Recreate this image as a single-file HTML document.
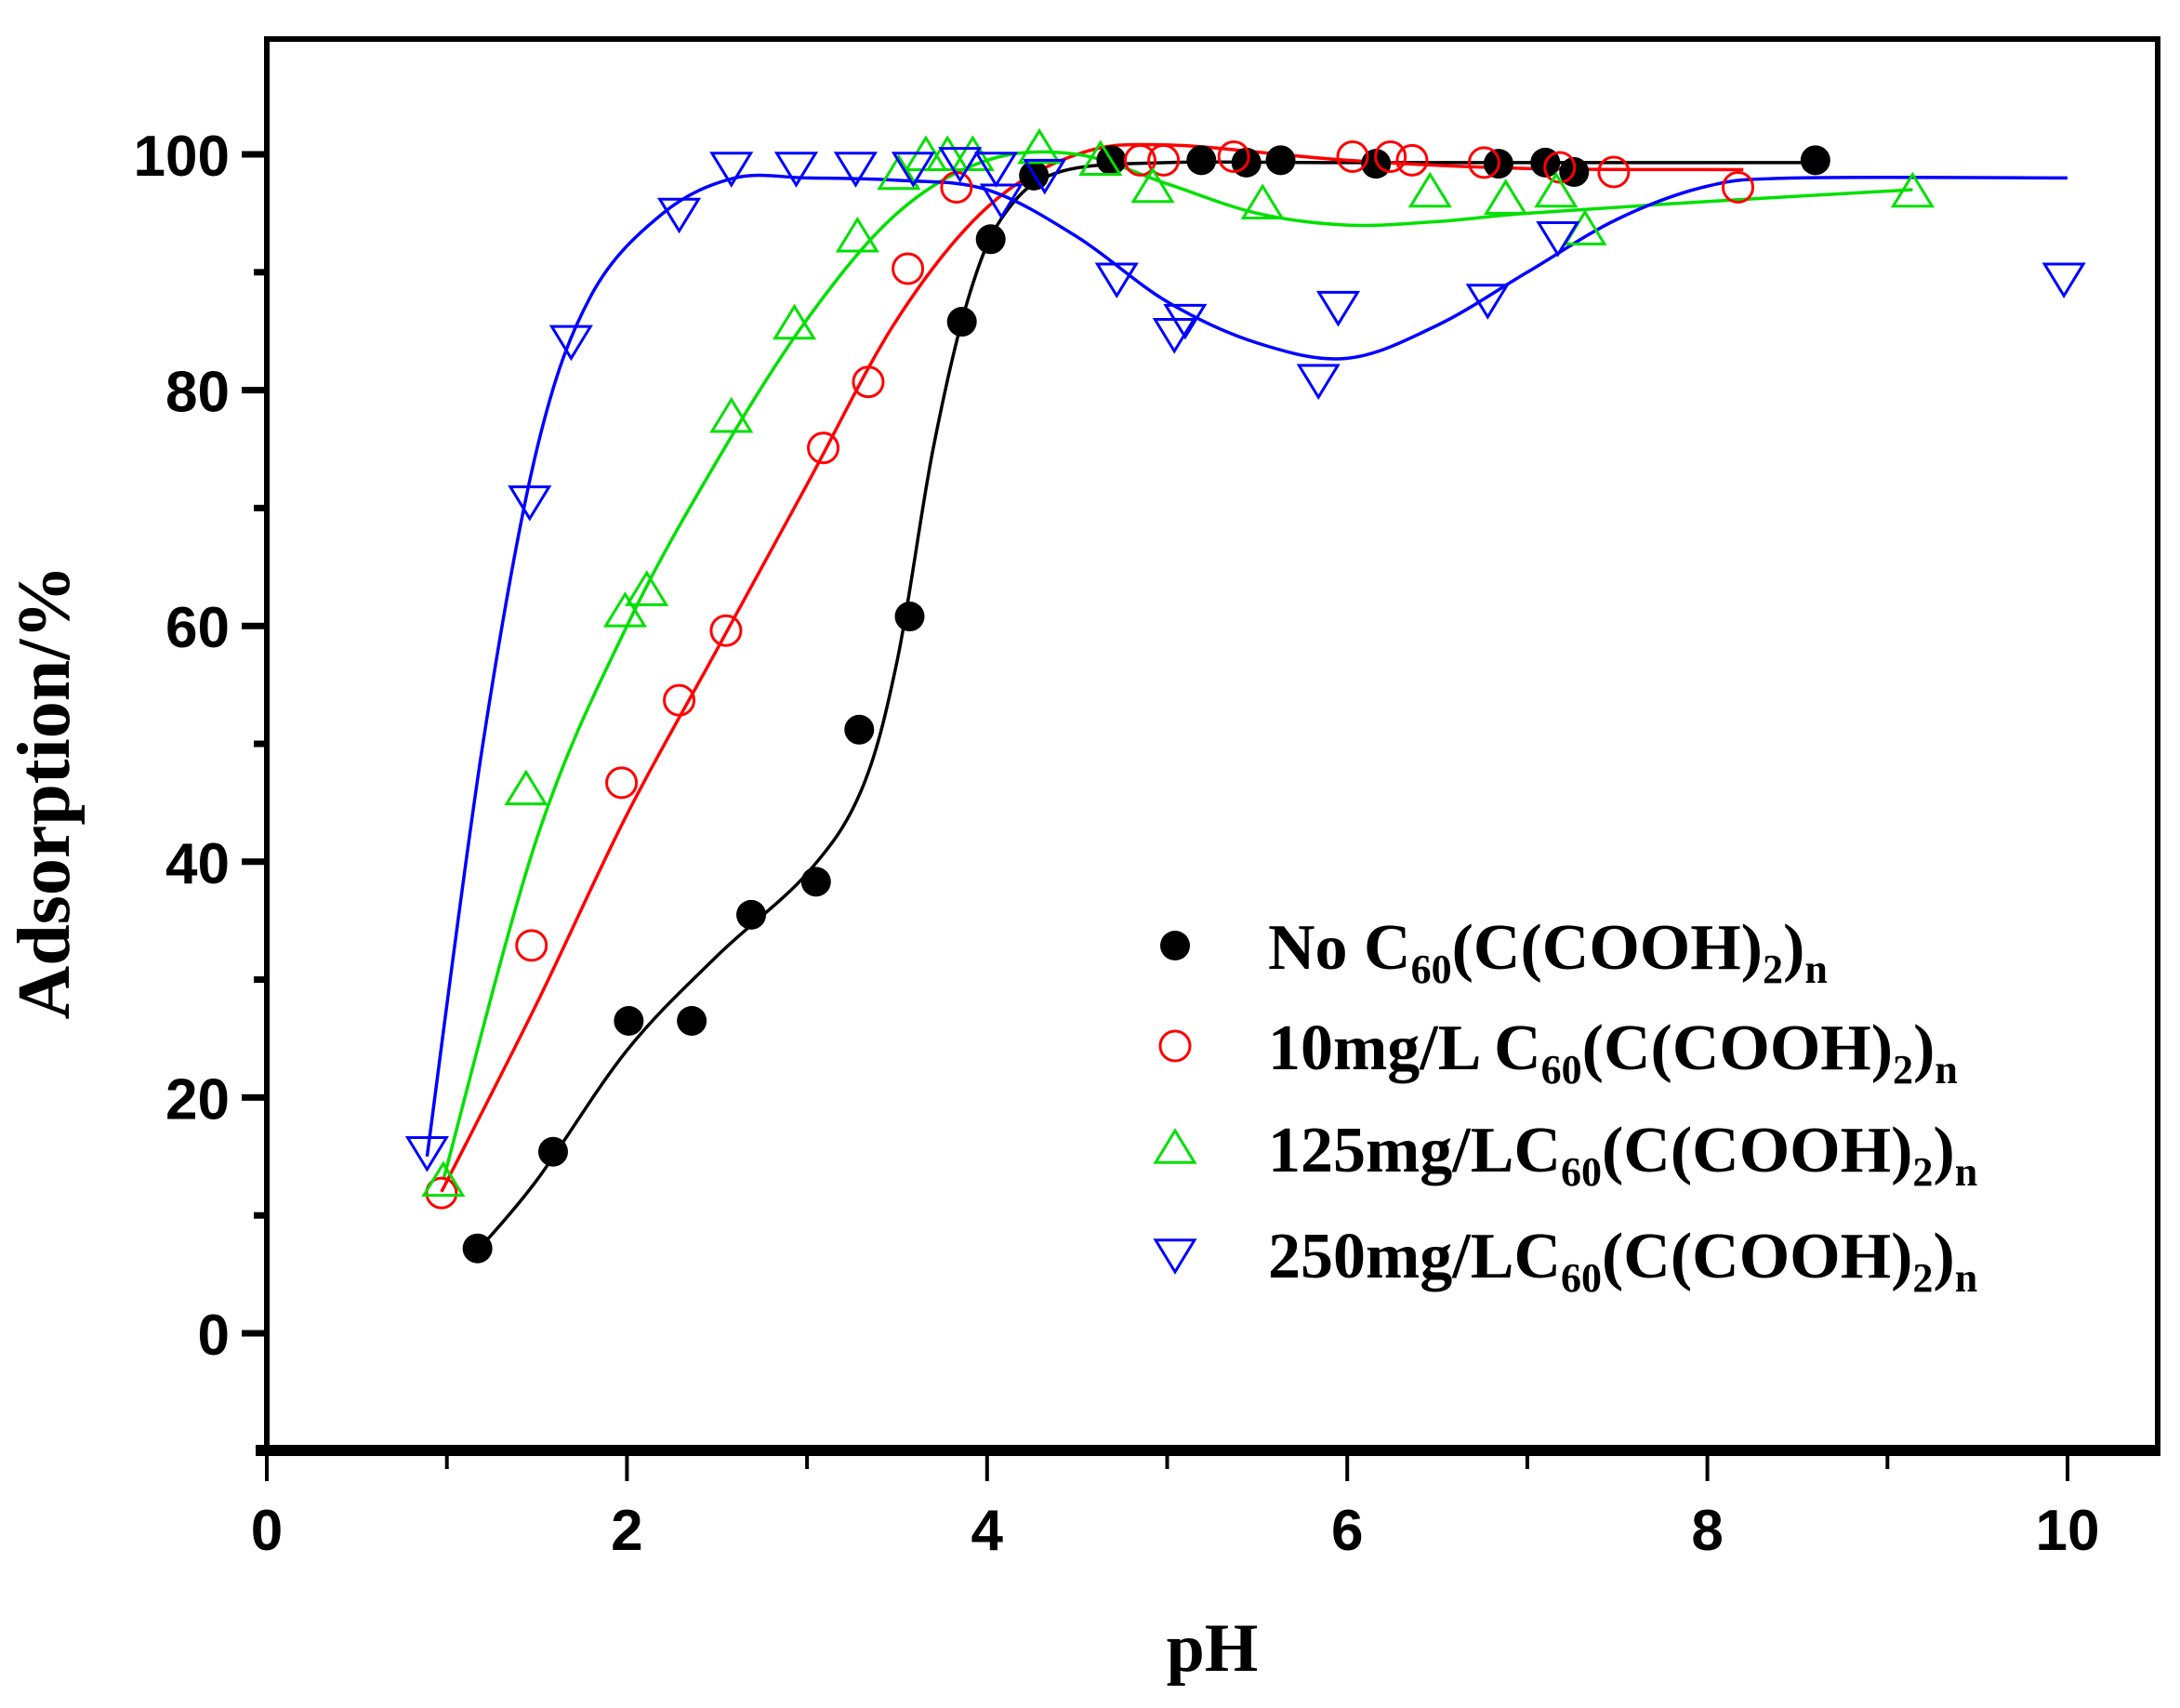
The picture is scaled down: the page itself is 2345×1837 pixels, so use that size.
<!DOCTYPE html>
<html><head><meta charset="utf-8"><style>
html,body{margin:0;padding:0;background:#fff}
svg{display:block}
</style></head><body>
<svg id="chart" width="2345" height="1837" viewBox="0 0 2345 1837" xmlns="http://www.w3.org/2000/svg">
<rect width="2345" height="1837" fill="#fff"/>
<g id="curves"></g>
<g id="marks"></g>
<g id="axes"></g>
<g id="legend" font-family="'Liberation Serif',serif" font-weight="bold" font-size="70">
  <text x="1364" y="1042">No C<tspan font-size="44" dy="15">60</tspan><tspan dy="-15">(C(COOH)</tspan><tspan font-size="44" dy="15">2</tspan><tspan dy="-15">)</tspan><tspan font-size="44" dy="15">n</tspan></text>
  <text x="1364" y="1150">10mg/L C<tspan font-size="44" dy="15">60</tspan><tspan dy="-15">(C(COOH)</tspan><tspan font-size="44" dy="15">2</tspan><tspan dy="-15">)</tspan><tspan font-size="44" dy="15">n</tspan></text>
  <text x="1364" y="1260">125mg/LC<tspan font-size="44" dy="15">60</tspan><tspan dy="-15">(C(COOH)</tspan><tspan font-size="44" dy="15">2</tspan><tspan dy="-15">)</tspan><tspan font-size="44" dy="15">n</tspan></text>
  <text x="1364" y="1374">250mg/LC<tspan font-size="44" dy="15">60</tspan><tspan dy="-15">(C(COOH)</tspan><tspan font-size="44" dy="15">2</tspan><tspan dy="-15">)</tspan><tspan font-size="44" dy="15">n</tspan></text>
</g>
<text x="1304" y="1797" text-anchor="middle" font-family="'Liberation Serif',serif" font-weight="bold" font-size="74">pH</text>
<text transform="translate(74,852) rotate(-90)" text-anchor="middle" font-family="'Liberation Serif',serif" font-weight="bold" font-size="80">Adsorption/%</text>
</svg>
<script>
const xTicks = [0, 2, 4, 6, 8, 10];
const yTicks = [0, 20, 40, 60, 80, 100];
const blackX = [1.17,1.59,2.01,2.36,2.69,3.05,3.29,3.57,3.86,4.02,4.26,4.69,5.19,5.44,5.63,6.16,6.84,7.10,7.26,8.60];
const blackY = [7.2,15.4,26.5,26.5,35.5,38.3,51.2,60.8,85.8,92.8,98.2,99.5,99.5,99.3,99.5,99.2,99.2,99.3,98.5,99.5];
const redX = [0.97,1.47,1.97,2.29,2.55,3.09,3.34,3.56,3.83,4.85,4.98,5.37,6.03,6.24,6.36,6.76,7.18,7.48,8.17];
const redY = [11.9,32.9,46.7,53.7,59.6,75.1,80.7,90.3,97.2,99.5,99.5,99.8,99.8,99.8,99.5,99.3,98.9,98.5,97.2];
const greenX = [0.98,1.44,1.99,2.11,2.58,2.93,3.28,3.51,3.66,3.78,3.92,4.29,4.63,4.92,5.53,6.46,6.88,7.16,7.32,9.14];
const greenY = [12.9,46.1,61.2,63.0,77.7,85.6,93.0,98.3,99.9,99.9,99.9,100.5,99.5,97.2,95.8,96.8,96.2,96.8,93.6,96.8];
const blueX = [0.89,1.46,1.69,2.29,2.58,2.94,3.27,3.59,3.85,4.05,4.08,4.32,4.72,5.04,5.10,5.84,5.95,6.78,7.17,9.98];
const blueY = [15.4,70.6,84.2,95.0,98.9,98.9,98.9,98.9,99.3,98.9,96.2,98.3,89.5,84.8,86.0,80.9,87.1,87.7,93.0,89.5];
const blackFitX = [1.17,1.5,2,2.5,3,3.3,3.5,3.7,3.9,4.1,4.4,5,6,8.6];
const blackFitY = [7,13,24,32,39,46,57,75,88,95,98.5,99.3,99.3,99.3];
const redFitX = [0.97,1.5,2,2.5,3,3.5,4,4.5,5,6,7,8.2];
const redFitY = [12,28,44,58,72,86,95.5,100,100.8,99.5,98.8,98.7];
const greenFitX = [0.98,1.5,2,2.5,3,3.5,4,4.5,5,5.5,6,6.5,7,8,9.14];
const greenFitY = [13,42,60,74,86,95,99.5,100,97.5,95,94,94.3,95,96,97];
const blueFitX = [0.89,1.2,1.5,1.8,2.2,2.6,3,3.5,4,4.5,5,5.5,6,6.5,7,7.5,8,8.5,10];
const blueFitY = [15,50,75,88,95,98,98,97.8,97,93,87.5,84,82.7,85.5,90,94.5,97.3,98,98];

const NS = 'http://www.w3.org/2000/svg';
const L = 287, R = 2321, T = 42, B = 1560;
const sx = v => 287 + v * 193.7;
const sy = v => 1434 - v * 12.68;

function mk(tag, attrs, parent) {
  const e = document.createElementNS(NS, tag);
  for (const k in attrs) e.setAttribute(k, attrs[k]);
  parent.appendChild(e);
  return e;
}
const axes = document.getElementById('axes');
const curves = document.getElementById('curves');
const marks = document.getElementById('marks');
const legend = document.getElementById('legend');

let fr = mk('rect', {x: L, y: T, width: R - L, height: B - T, fill: 'none', stroke: '#000', 'stroke-width': 6}, axes);


let bx = mk('line', {x1: L - 12, y1: B, x2: R + 3, y2: B, stroke: '#000', 'stroke-width': 12}, axes);



for (let v = 0; v <= 10; v += 1) {
  const major = v % 2 === 0;
  const t = mk('line', {x1: sx(v), y1: B + 6, x2: sx(v), y2: B + (major ? 33 : 20), stroke: '#000', 'stroke-width': 4}, axes);
  
  
}
xTicks.forEach(v => {
  const t = mk('text', {x: sx(v), y: 1667, 'text-anchor': 'middle', 'font-family': "'Liberation Sans',sans-serif", 'font-weight': 'bold', 'font-size': 62}, axes);
  t.textContent = v;
  
  
});
for (let v = 0; v <= 100; v += 10) {
  const major = v % 20 === 0;
  const t = mk('line', {x1: L - (major ? 27 : 14), y1: sy(v), x2: L, y2: sy(v), stroke: '#000', 'stroke-width': 7}, axes);
  
  
}
yTicks.forEach(v => {
  const t = mk('text', {x: 247, y: sy(v) + 23, 'text-anchor': 'end', 'font-family': "'Liberation Sans',sans-serif", 'font-weight': 'bold', 'font-size': 62}, axes);
  t.textContent = v;
  
  
});

function smooth(xs, ys) {
  const p = xs.map((x, i) => [sx(x), sy(ys[i])]);
  let d = 'M' + p[0][0] + ',' + p[0][1];
  for (let i = 0; i < p.length - 1; i++) {
    const p0 = p[i - 1] || p[i], p1 = p[i], p2 = p[i + 1], p3 = p[i + 2] || p2;
    const c1 = [p1[0] + (p2[0] - p0[0]) / 6, p1[1] + (p2[1] - p0[1]) / 6];
    const c2 = [p2[0] - (p3[0] - p1[0]) / 6, p2[1] - (p3[1] - p1[1]) / 6];
    d += ' C' + c1.join(',') + ' ' + c2.join(',') + ' ' + p2.join(',');
  }
  return d;
}
const series = [
  {n: 'no', c: '#000', fx: blackFitX, fy: blackFitY, x: blackX, y: blackY, m: 'dot'},
  {n: '10', c: '#ff0000', fx: redFitX, fy: redFitY, x: redX, y: redY, m: 'circle'},
  {n: '125', c: '#00e000', fx: greenFitX, fy: greenFitY, x: greenX, y: greenY, m: 'up'},
  {n: '250', c: '#0000ff', fx: blueFitX, fy: blueFitY, x: blueX, y: blueY, m: 'down'}
];
function marker(type, cx, cy, color, parent) {
  const r = 16;
  if (type === 'dot') return mk('circle', {cx, cy, r: r, fill: color}, parent);
  if (type === 'circle') return mk('circle', {cx, cy, r: r, fill: 'none', stroke: color, 'stroke-width': 3}, parent);
  const s = 19;
  if (type === 'up') return mk('polygon', {points: `${cx},${cy - s} ${cx - s * 1.1},${cy + s * 0.8} ${cx + s * 1.1},${cy + s * 0.8}`, fill: 'none', stroke: color, 'stroke-width': 3}, parent);
  return mk('polygon', {points: `${cx},${cy + s} ${cx - s * 1.1},${cy - s * 0.8} ${cx + s * 1.1},${cy - s * 0.8}`, fill: 'none', stroke: color, 'stroke-width': 3}, parent);
}
const legendY = [1017, 1125, 1235, 1349];
series.forEach((s, k) => {
  const p = mk('path', {d: smooth(s.fx, s.fy), fill: 'none', stroke: s.c, 'stroke-width': 3.5}, curves);
  
  
  s.x.forEach((x, i) => {
    const m = marker(s.m, sx(x), sy(s.y[i]), s.c, marks);
    
    
  });
  const lm = marker(s.m, 1264, legendY[k], s.c, legend);
  
  
});
</script>
</body></html>
